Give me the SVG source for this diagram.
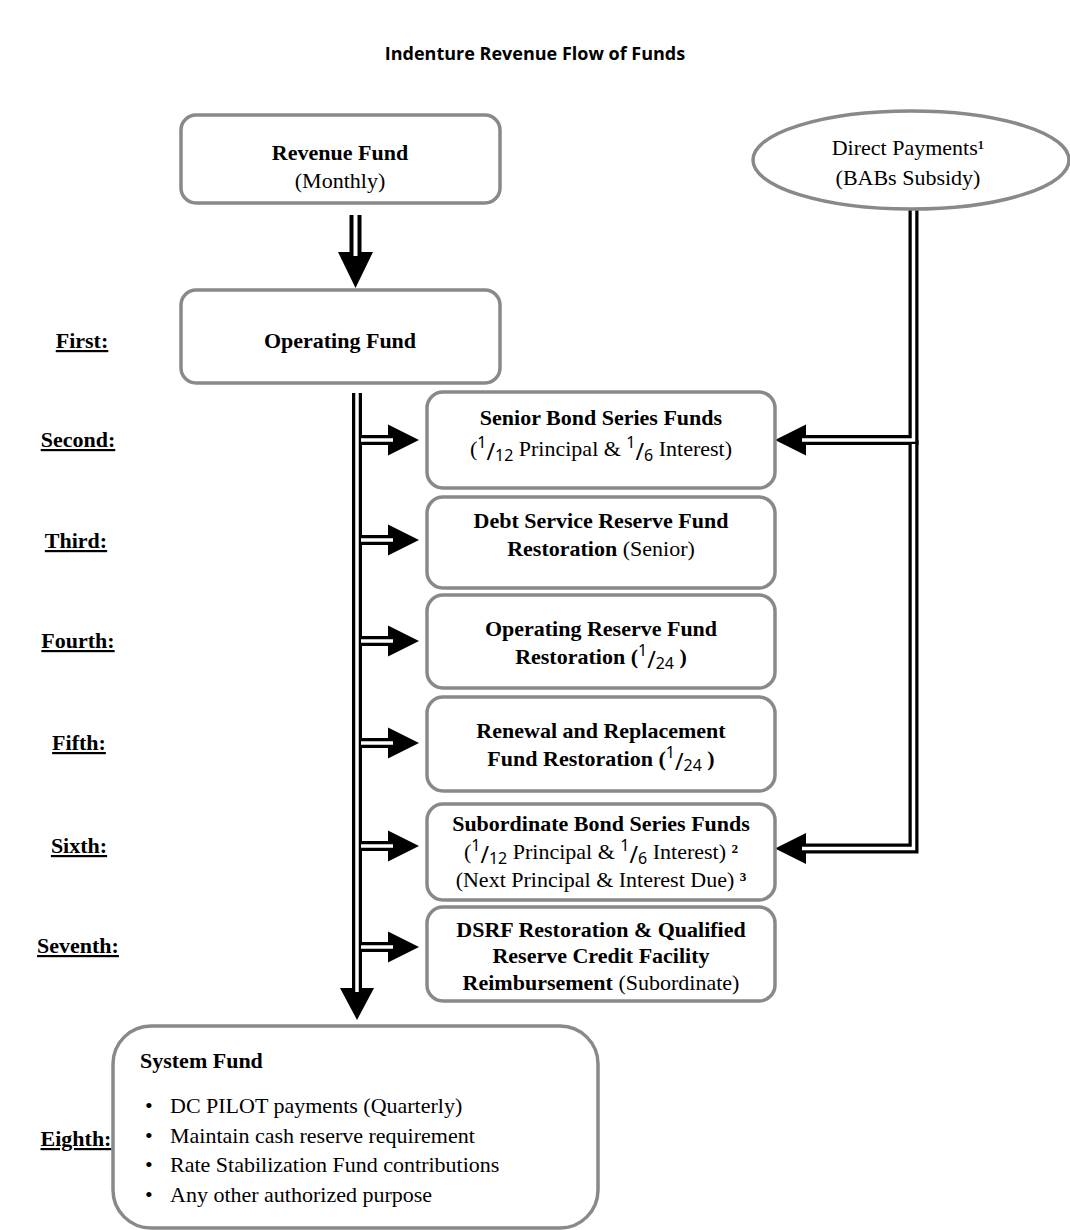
<svg xmlns="http://www.w3.org/2000/svg" width="1070" height="1230" viewBox="0 0 1070 1230">
<style>
.box{fill:#fff;stroke:#898989;stroke-width:3.5}
.t{font-family:"Liberation Serif","Times New Roman",serif;font-size:22px;fill:#000}
.b{font-weight:bold}
.c{text-anchor:middle}
.lbl{font-family:"Liberation Serif","Times New Roman",serif;font-size:22px;font-weight:bold;text-anchor:middle;text-decoration:underline}
.num{font-family:"Noto Sans","DejaVu Sans",sans-serif;font-size:16px;font-weight:normal}
.sl{font-family:"Noto Sans","DejaVu Sans",sans-serif;font-size:23px;font-weight:normal}
.lk{fill:none;stroke:#000;stroke-linejoin:miter}
.lw{fill:none;stroke:#fff;stroke-linejoin:miter}
.ah{fill:#000}
</style>
<text x="535" y="60" font-family="'Open Sans','Liberation Sans',sans-serif" font-size="18" font-weight="bold" text-anchor="middle">Indenture Revenue Flow of Funds</text>

<g id="labels">
<text class="lbl" x="82" y="348">First:</text>
<text class="lbl" x="78" y="447">Second:</text>
<text class="lbl" x="76" y="548">Third:</text>
<text class="lbl" x="78" y="648">Fourth:</text>
<text class="lbl" x="79" y="750">Fifth:</text>
<text class="lbl" x="79" y="853">Sixth:</text>
<text class="lbl" x="78" y="953">Seventh:</text>
<text class="lbl" x="76" y="1146">Eighth:</text>
</g>

<g id="connectors">
<!-- revenue to operating -->
<polygon class="ah" points="338,252 373,252 355.5,288"/>
<path class="lk" stroke-width="12" d="M355.5,215 V256"/>
<path class="lw" stroke-width="4" d="M355.5,215 V256"/>
<!-- trunk -->
<polygon class="ah" points="340,988 374,988 357,1020"/>
<path class="lk" stroke-width="10" d="M357,393 V992"/>
<g class="lk" stroke-width="10">
<path d="M357,440 H393"/><path d="M357,540 H393"/><path d="M357,641 H393"/><path d="M357,743 H393"/><path d="M357,846 H393"/><path d="M357,947 H393"/>
</g>
<path class="lw" stroke-width="3.5" d="M357,393 V992"/>
<g class="ah">
<polygon points="388,424.5 419,440 388,455.5"/>
<polygon points="388,524.5 419,540 388,555.5"/>
<polygon points="388,625.5 419,641 388,656.5"/>
<polygon points="388,727.5 419,743 388,758.5"/>
<polygon points="388,830.5 419,846 388,861.5"/>
<polygon points="388,931.5 419,947 388,962.5"/>
</g>
<g class="lw" stroke-width="3.5">
<path d="M361,440 H393"/><path d="M361,540 H393"/><path d="M361,641 H393"/><path d="M361,743 H393"/><path d="M361,846 H393"/><path d="M361,947 H393"/>
</g>
<!-- right connector from direct payments -->
<polygon class="ah" points="806,424.5 775,440 806,455.5"/>
<polygon class="ah" points="806,833 775,848.5 806,864"/>
<path class="lk" stroke-width="10" d="M913.5,210 V440 H802"/>
<path class="lk" stroke-width="10" d="M913.5,440 V848.5 H802"/>
<path class="lw" stroke-width="3.5" d="M913.5,210 V440 H802"/>
<path class="lw" stroke-width="3.5" d="M913.5,444 V848.5 H802"/>
</g>

<g id="revenue-fund">
<rect class="box" x="181" y="115" width="319" height="88" rx="15"/>
<text class="t b c" x="340" y="160">Revenue Fund</text>
<text class="t c" x="340" y="188">(Monthly)</text>
</g>

<g id="direct-payments">
<ellipse class="box" cx="911" cy="160" rx="158" ry="49"/>
<text class="t c" x="908" y="155">Direct Payments¹</text>
<text class="t c" x="908" y="185">(BABs Subsidy)</text>
</g>

<g id="operating-fund">
<rect class="box" x="181" y="290" width="319" height="93" rx="15"/>
<text class="t b c" x="340" y="348">Operating Fund</text>
</g>

<g id="senior-bond">
<rect class="box" x="427" y="392" width="348" height="96" rx="16"/>
<text class="t b c" x="601" y="425">Senior Bond Series Funds</text>
<text class="t c" x="601" y="456">(<tspan class="num" dy="-8">1</tspan><tspan class="sl" dy="12">/</tspan><tspan class="num" dy="1">12</tspan><tspan dy="-5"> Principal &amp; </tspan><tspan class="num" dy="-8">1</tspan><tspan class="sl" dy="12">/</tspan><tspan class="num" dy="1">6</tspan><tspan dy="-5"> Interest)</tspan></text>
</g>

<g id="dsrf-senior">
<rect class="box" x="427" y="497" width="348" height="91" rx="16"/>
<text class="t b c" x="601" y="528">Debt Service Reserve Fund</text>
<text class="t c" x="601" y="556"><tspan class="b">Restoration</tspan> (Senior)</text>
</g>

<g id="operating-reserve">
<rect class="box" x="427" y="595" width="348" height="93" rx="16"/>
<text class="t b c" x="601" y="636">Operating Reserve Fund</text>
<text class="t b c" x="601" y="664">Restoration (<tspan class="num" dy="-8">1</tspan><tspan class="sl" dy="12">/</tspan><tspan class="num" dy="1">24</tspan><tspan dy="-5"> )</tspan></text>
</g>

<g id="renewal-replacement">
<rect class="box" x="427" y="697" width="348" height="94" rx="16"/>
<text class="t b c" x="601" y="738">Renewal and Replacement</text>
<text class="t b c" x="601" y="766">Fund Restoration (<tspan class="num" dy="-8">1</tspan><tspan class="sl" dy="12">/</tspan><tspan class="num" dy="1">24</tspan><tspan dy="-5"> )</tspan></text>
</g>

<g id="subordinate-bond">
<rect class="box" x="427" y="804" width="348" height="96" rx="16"/>
<text class="t b c" x="601" y="831">Subordinate Bond Series Funds</text>
<text class="t c" x="601" y="859">(<tspan class="num" dy="-8">1</tspan><tspan class="sl" dy="12">/</tspan><tspan class="num" dy="1">12</tspan><tspan dy="-5"> Principal &amp; </tspan><tspan class="num" dy="-8">1</tspan><tspan class="sl" dy="12">/</tspan><tspan class="num" dy="1">6</tspan><tspan dy="-5"> Interest) </tspan><tspan class="b">²</tspan></text>
<text class="t c" x="601" y="887">(Next Principal &amp; Interest Due) <tspan class="b">³</tspan></text>
</g>

<g id="dsrf-subordinate">
<rect class="box" x="427" y="907" width="348" height="94" rx="16"/>
<text class="t b c" x="601" y="937">DSRF Restoration &amp; Qualified</text>
<text class="t b c" x="601" y="963">Reserve Credit Facility</text>
<text class="t c" x="601" y="990"><tspan class="b">Reimbursement</tspan> (Subordinate)</text>
</g>

<g id="system-fund">
<rect class="box" x="113" y="1026" width="485" height="202" rx="38"/>
<text class="t b" x="140" y="1068">System Fund</text>
<text class="t" x="145" y="1113">•</text><text class="t" x="170" y="1113">DC PILOT payments (Quarterly)</text>
<text class="t" x="145" y="1143">•</text><text class="t" x="170" y="1143">Maintain cash reserve requirement</text>
<text class="t" x="145" y="1172">•</text><text class="t" x="170" y="1172">Rate Stabilization Fund contributions</text>
<text class="t" x="145" y="1202">•</text><text class="t" x="170" y="1202">Any other authorized purpose</text>
</g>
</svg>
